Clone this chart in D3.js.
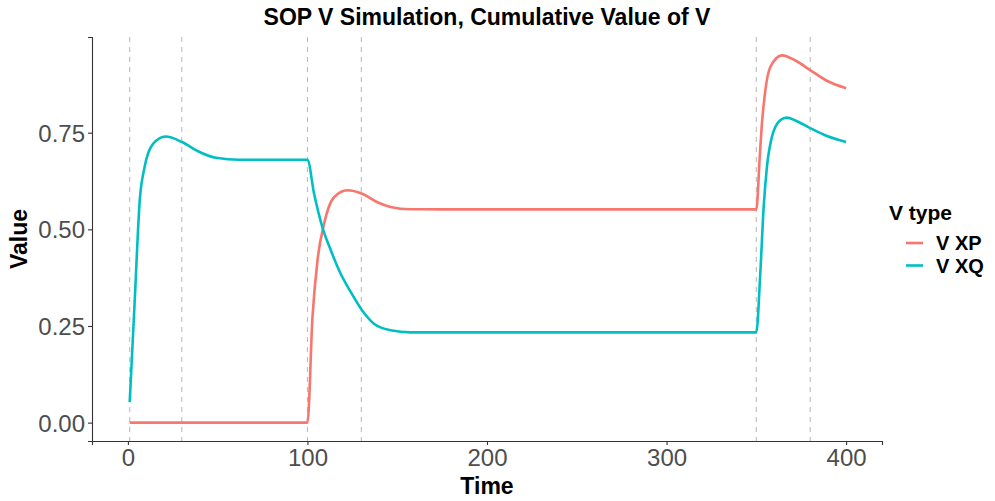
<!DOCTYPE html>
<html>
<head>
<meta charset="utf-8">
<script src="https://cdn.jsdelivr.net/npm/d3@7"></script>
<style>
  html, body { margin: 0; padding: 0; background: #fff; }
  svg { display: block; font-family: "Liberation Sans", Arial, Helvetica, sans-serif; }
</style>
</head>
<body>
<svg id="chart" width="995" height="501"></svg>
<script>
// ---- Data ----
const seriesNames = ["V XP", "V XQ"];
const seriesColors = ["#F8766D", "#00BFC4"];

const timeXP = [1, 50, 100, 102.8, 105.6, 109.3, 114.8, 122.2, 130.5, 138.9, 146.3, 157.4, 175, 200, 250, 300, 350, 351.9, 353.1, 355, 357.8, 364.3, 372, 380, 389, 400];
const valueXP = [0, 0, 0, 0.273, 0.420, 0.515, 0.583, 0.601, 0.592, 0.570, 0.558, 0.552, 0.5516, 0.5516, 0.5516, 0.5516, 0.5516, 0.687, 0.773, 0.859, 0.920, 0.950, 0.936, 0.912, 0.885, 0.865];

const timeXQ = [1, 3.8, 6.6, 9.3, 14, 21, 30.1, 39.9, 49.1, 62, 80, 100, 103.7, 108.3, 113, 118.5, 124.1, 130.5, 137, 146.3, 157.4, 175, 200, 250, 300, 350, 352.2, 354.1, 355.9, 358.7, 363.3, 367, 372, 380, 389, 400];
const valueXQ = [0.053, 0.316, 0.575, 0.661, 0.721, 0.740, 0.726, 0.700, 0.685, 0.680, 0.680, 0.680, 0.592, 0.506, 0.446, 0.385, 0.338, 0.290, 0.256, 0.239, 0.2335, 0.2335, 0.2335, 0.2335, 0.2335, 0.2335, 0.385, 0.558, 0.661, 0.739, 0.782, 0.789, 0.781, 0.762, 0.742, 0.726];

const vlineTimes = [1, 30, 100, 130, 350, 380];
const xTicks = [0, 100, 200, 300, 400];
const yTicks = [0, 0.25, 0.5, 0.75];

const titleText = "SOP V Simulation, Cumulative Value of V";
const xLabel = "Time";
const yLabel = "Value";
const legendTitle = "V type";

// ---- Layout ----
const svg = d3.select("#chart");
const panel = { left: 92, right: 882, top: 37, bottom: 441 };

const series = [
  { name: seriesNames[0], color: seriesColors[0], pts: timeXP.map((t, i) => ({ t, v: valueXP[i] })) },
  { name: seriesNames[1], color: seriesColors[1], pts: timeXQ.map((t, i) => ({ t, v: valueXQ[i] })) }
];

// ggplot-like 5% expansion
const xMin = 0, xMax = 400;
const xPad = (xMax - xMin) * 0.05;
const allV = valueXP.concat(valueXQ);
const yMin = d3.min(allV), yMax = d3.max(allV);
const yPad = (yMax - yMin) * 0.05;

const x = d3.scaleLinear().domain([xMin - xPad, xMax + xPad]).range([panel.left, panel.right]);
const y = d3.scaleLinear().domain([yMin - yPad, yMax + yPad]).range([panel.bottom, panel.top]);

// dashed vertical lines
svg.append("g").selectAll("line").data(vlineTimes).join("line")
  .attr("x1", d => x(d)).attr("x2", d => x(d))
  .attr("y1", panel.top).attr("y2", panel.bottom)
  .attr("stroke", "#bdbdbd").attr("stroke-width", 1.1)
  .attr("stroke-dasharray", "5,5");

// lines
const line = d3.line().x(d => x(d.t)).y(d => y(d.v)).curve(d3.curveMonotoneX);
svg.append("g").selectAll("path").data(series).join("path")
  .attr("d", d => line(d.pts))
  .attr("fill", "none")
  .attr("stroke", d => d.color)
  .attr("stroke-width", 2.6)
  .attr("stroke-linejoin", "round")
  .attr("stroke-linecap", "butt");

// axes
const xAxis = svg.append("g").attr("transform", `translate(0,${panel.bottom})`)
  .call(d3.axisBottom(x).tickValues(xTicks).tickSize(4).tickPadding(4).tickFormat(d3.format("d")));
const yAxis = svg.append("g").attr("transform", `translate(${panel.left},0)`)
  .call(d3.axisLeft(y).tickValues(yTicks).tickSize(4).tickPadding(4).tickFormat(d3.format(".2f")));

[xAxis, yAxis].forEach(g => {
  g.select(".domain").attr("stroke", "#333").attr("stroke-width", 1.1);
  g.selectAll(".tick line").attr("stroke", "#333").attr("stroke-width", 1.1);
  g.selectAll(".tick text").attr("fill", "#4d4d4d")
    .style("font-size", "24px").style("font-family", "'Liberation Sans', Arial, sans-serif");
});
xAxis.selectAll(".tick text").attr("dy", "0.71em").attr("y", 8);
yAxis.selectAll(".tick text").attr("dy", "0.36em").attr("x", -7);

// title
svg.append("text").attr("x", (panel.left + panel.right) / 2).attr("y", 25)
  .attr("text-anchor", "middle").attr("font-weight", "bold").attr("font-size", 23)
  .attr("fill", "#000").text(titleText);

// axis titles
svg.append("text").attr("x", (panel.left + panel.right) / 2).attr("y", 494)
  .attr("text-anchor", "middle").attr("font-weight", "bold").attr("font-size", 23)
  .attr("fill", "#000").text(xLabel);
svg.append("text").attr("transform", `translate(27,${(panel.top + panel.bottom) / 2}) rotate(-90)`)
  .attr("text-anchor", "middle").attr("font-weight", "bold").attr("font-size", 23)
  .attr("fill", "#000").text(yLabel);

// legend
const lg = svg.append("g");
lg.append("text").attr("x", 889).attr("y", 220).attr("font-weight", "bold").attr("font-size", 21)
  .attr("fill", "#000").text(legendTitle);
const rows = lg.selectAll("g.row").data(series).join("g").attr("class", "row")
  .attr("transform", (d, i) => `translate(0,${243 + i * 22.5})`);
rows.append("line").attr("x1", 906).attr("x2", 923).attr("y1", 0).attr("y2", 0)
  .attr("stroke", d => d.color).attr("stroke-width", 2.6);
rows.append("text").attr("x", 936).attr("y", 0).attr("dy", "0.36em")
  .attr("font-weight", "bold").attr("font-size", 20).attr("fill", "#000").text(d => d.name);
</script>
</body>
</html>
